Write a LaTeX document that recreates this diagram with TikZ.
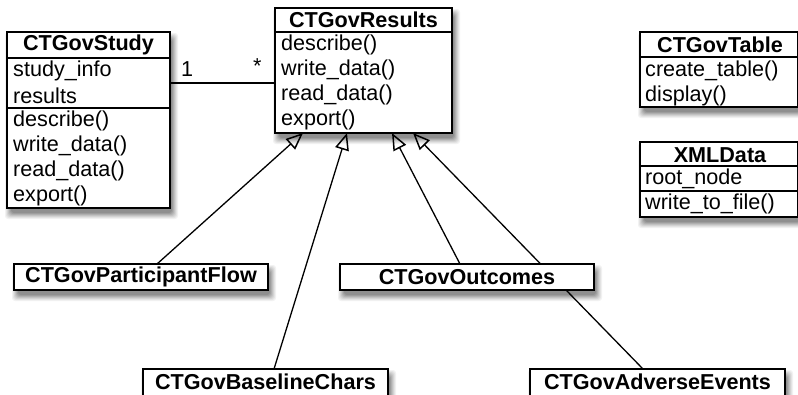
\documentclass[tikz,border=0pt]{standalone}
\usepackage{fontspec}
\setmainfont{Liberation Sans}
\usetikzlibrary{arrows.meta}
\pgfdeclarelayer{background}
\pgfdeclarelayer{shadow}
\pgfsetlayers{shadow,background,main}
\newcommand{\softshadow}[1]{%
  \begin{pgfonlayer}{shadow}
  \foreach \r/\o in {5/0.05,4/0.06,3/0.07,2/0.08,1/0.09,0/0.1,-1/0.1}{
    \fill[black, opacity=\o, rounded corners=3pt]
      ([shift={(3-\r,6-\r)}]#1.north west) rectangle ([shift={(3+\r,6+\r)}]#1.south east);
  }
  \end{pgfonlayer}}
\begin{document}
\begin{tikzpicture}[x=1pt,y=-1pt,
  box/.style={draw=black, line width=1.6pt, fill=white, inner sep=0pt, outer sep=0pt,
    anchor=north west},
  sep/.style={line width=1.3pt},
  title/.style={font=\fontsize{21.6}{25}\selectfont\bfseries, inner sep=0pt, anchor=center},
  attr/.style={font=\fontsize{21.6}{25}\selectfont, inner sep=0pt, anchor=west},
  gen/.style={line width=1.3pt, -{Triangle[open, length=17pt, width=14pt, line width=1.5pt]}},
  assoc/.style={line width=1.3pt}]
\useasboundingbox (0,0) rectangle (798,394);
\begin{scope}
\clip (0,0) rectangle (798,394);
% CTGovStudy
\node[box, minimum width=163, minimum height=176] (study) at (7,32) {};
\draw[sep] (7,58) -- (170,58);
\draw[sep] (7,108) -- (170,108);
\node[title] (studyT) at (88.5,45) {CTGovStudy};
\node[attr] (s1) at (13,71) {study\_info};
\node[attr] (s2) at (13,96) {results};
\node[attr] (s3) at (13,121) {describe()};
\node[attr] (s4) at (13,146) {write\_data()};
\node[attr] (s5) at (13,171) {read\_data()};
\node[attr] (s6) at (13,196) {export()};
% CTGovResults
\node[box, minimum width=177, minimum height=125] (results) at (275,8) {};
\draw[sep] (275,32) -- (452,32);
\node[title] (resT) at (363.5,20) {CTGovResults};
\node[attr] (r1) at (281,45) {describe()};
\node[attr] (r2) at (281,70) {write\_data()};
\node[attr] (r3) at (281,95) {read\_data()};
\node[attr] (r4) at (281,120) {export()};
% CTGovTable
\node[box, minimum width=158, minimum height=75] (table) at (640,32) {};
\draw[sep] (640,57) -- (798,57);
\node[title] (tabT) at (720,45) {CTGovTable};
\node[attr] (t1) at (645,71) {create\_table()};
\node[attr] (t2) at (645,96) {display()};
% XMLData
\node[box, minimum width=158, minimum height=75] (xml) at (640,142) {};
\draw[sep] (640,166) -- (798,166);
\draw[sep] (640,191) -- (798,191);
\node[title] (xmlT) at (720,155) {XMLData};
\node[attr] (x1) at (645,179) {root\_node};
\node[attr] (x2) at (645,204) {write\_to\_file()};
% single boxes
\node[box, minimum width=254, minimum height=26] (pflow) at (14,264) {};
\node[title] (pflowT) at (141,277) {CTGovParticipantFlow};
\node[box, minimum width=254, minimum height=26] (outc) at (340,264) {};
\node[title] (outcT) at (467,277) {CTGovOutcomes};
\node[box, minimum width=245, minimum height=27] (base) at (143,369) {};
\node[title] (baseT) at (265.5,382) {CTGovBaselineChars};
\node[box, minimum width=255, minimum height=27] (adv) at (530,369) {};
\node[title] (advT) at (657.5,382) {CTGovAdverseEvents};
% association labels
\node[attr] (one) at (181,69) {1};
\node[attr] (star) at (253,66) {*};
\softshadow{study}
\softshadow{results}
\softshadow{table}
\softshadow{xml}
\softshadow{pflow}
\softshadow{outc}
\softshadow{base}
\softshadow{adv}
\end{scope}
\begin{pgfonlayer}{background}
\draw[assoc] (study.east |- 0,83) -- (results.west |- 0,83);
\draw[gen] ([xshift=16pt]pflow.north) -- ([xshift=-60.5pt]results.south);
\draw[gen] ([xshift=8.5pt]base.north) -- ([xshift=-16.5pt]results.south);
\draw[gen] ([xshift=-7pt]outc.north) -- ([xshift=28.5pt]results.south);
\draw[gen] ([xshift=-14.5pt]adv.north) -- ([xshift=49.5pt]results.south);
\end{pgfonlayer}
\end{tikzpicture}
\end{document}
